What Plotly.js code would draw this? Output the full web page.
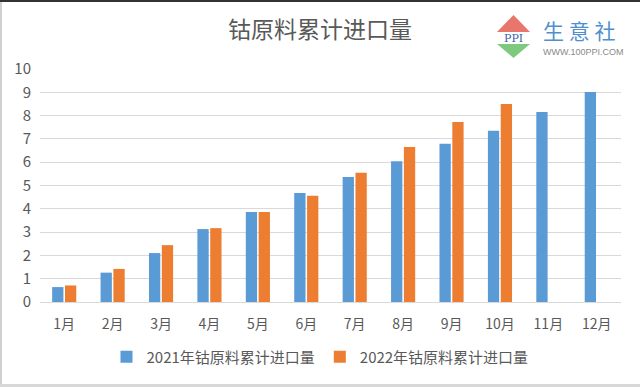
<!DOCTYPE html>
<html>
<head>
<meta charset="utf-8">
<script src="https://cdn.plot.ly/plotly-3.0.1.min.js"></script>
<style>html,body{margin:0;padding:0;background:#fff;}#chart{width:640px;height:387px;}</style>
</head>
<body>
<div id="chart"></div>
<script>
const months = ["1月","2月","3月","4月","5月","6月","7月","8月","9月","10月","11月","12月"];
const values2021 = [0.64, 1.26, 2.10, 3.13, 3.86, 4.68, 5.36, 6.04, 6.79, 7.35, 8.15, 9.01];
const values2022 = [0.71, 1.42, 2.44, 3.17, 3.86, 4.56, 5.55, 6.65, 7.73, 8.50, null, null];
const seriesNames = ["2021年钴原料累计进口量", "2022年钴原料累计进口量"];
const chartTitle = "钴原料累计进口量";

const W = 640, H = 387, L = 40, R = 621, T = 69, B = 302;
function px(x){ return (x - L) / (R - L); }
function py(y){ return (B - y) / (B - T); }

const font = "'Noto Sans CJK SC', 'Microsoft YaHei', sans-serif";

const traces = [
  {type:'bar', x: months, y: values2021, name: seriesNames[0], marker:{color:'#5b9bd5'}},
  {type:'bar', x: months, y: values2022, name: seriesNames[1], marker:{color:'#ed7d31'}}
];

const layout = {
  width: W, height: H,
  margin: {l: L, r: W - R, t: T, b: H - B, pad: 0},
  paper_bgcolor: '#fff', plot_bgcolor: '#fff',
  barmode: 'group', bargap: 0.47, bargroupgap: 0.12,
  title: {text: chartTitle, x: 0.5, xref: 'container', xanchor: 'center', y: 1 - 30/H, yref: 'container', yanchor: 'middle',
          font: {family: font, size: 23, color: '#595959'}},
  xaxis: {type: 'category', showgrid: false, zeroline: false, showline: false, ticks: '',
          tickfont: {family: font, size: 14, color: '#595959'}, ticklabelstandoff: 12, fixedrange: true},
  yaxis: {range: [0, 10], dtick: 1, tick0: 0, showgrid: true, gridcolor: '#d9d9d9', gridwidth: 1,
          zeroline: true, zerolinecolor: '#d9d9d9', zerolinewidth: 1, showline: false, ticks: '',
          tickfont: {family: font, size: 15, color: '#595959'}, ticklabelstandoff: 8, fixedrange: true},
  showlegend: true,
  legend: {orientation: 'h', xref: 'container', yref: 'container', x: 0.5, xanchor: 'center', y: 1 - 357/H, yanchor: 'middle',
           font: {family: font, size: 15, color: '#595959'}, itemwidth: 30, traceorder: 'normal', itemclick: false, itemdoubleclick: false},
  shapes: [
    {type:'rect', xref:'paper', yref:'paper', x0: px(0), x1: px(W), y0: py(0), y1: py(2), fillcolor:'#333', line:{width:0}, layer:'above'},
    {type:'rect', xref:'paper', yref:'paper', x0: px(0), x1: px(2), y0: py(2), y1: py(H), fillcolor:'#d0d0d0', line:{width:0}},
    {type:'rect', xref:'paper', yref:'paper', x0: px(0), x1: px(W), y0: py(384), y1: py(387), fillcolor:'#d8d8d8', line:{width:0}},
    {type:'path', xref:'paper', yref:'paper',
     path: `M ${px(497)} ${py(32)} L ${px(513.5)} ${py(15)} L ${px(530)} ${py(32)} Z`, fillcolor:'#e8766d', line:{width:0}},
    {type:'path', xref:'paper', yref:'paper',
     path: `M ${px(497)} ${py(44)} L ${px(530)} ${py(44)} L ${px(513.5)} ${py(58)} Z`, fillcolor:'#7fc97f', line:{width:0}}
  ],
  annotations: [
    {text: 'PPI', xref:'paper', yref:'paper', x: px(513.5), y: py(38.5), xanchor:'center', yanchor:'middle', showarrow:false,
     font:{family:"'DejaVu Serif', serif", size: 11, color:'#3a5fa8'}},
    {text: '生 意 社', xref:'paper', yref:'paper', x: px(541), y: py(30), xanchor:'left', yanchor:'middle', showarrow:false,
     font:{family: font, size: 21, color:'#4f8fd0'}},
    {text: 'WWW.100PPI.COM', xref:'paper', yref:'paper', x: px(541), y: py(52), xanchor:'left', yanchor:'middle', showarrow:false,
     font:{family:"'Liberation Sans', Arial, sans-serif", size: 9, color:'#8a8a8a'}}
  ]
};

Plotly.newPlot('chart', traces, layout, {displayModeBar: false, staticPlot: true});
</script>
</body>
</html>
